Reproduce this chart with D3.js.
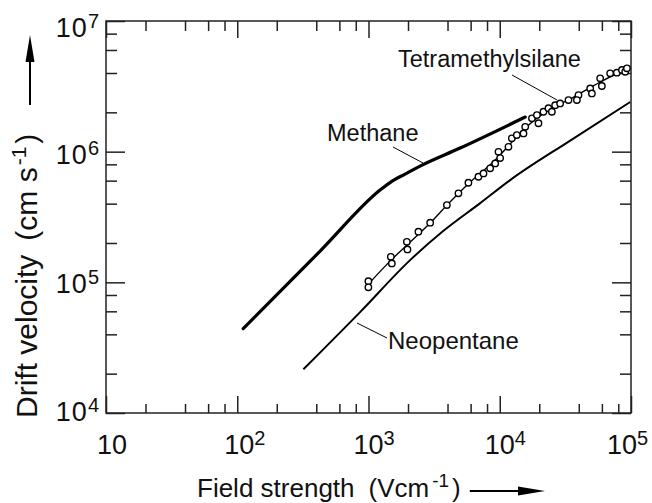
<!DOCTYPE html>
<html>
<head>
<meta charset="utf-8">
<script src="https://cdn.jsdelivr.net/npm/d3@7"></script>
<style>
  body { margin: 0; background: #fff; }
  text { font-family: "Liberation Sans", Arial, sans-serif; fill: #111; }
</style>
</head>
<body>
<svg id="chart" width="652" height="503"></svg>
<script>
// field strength (V/cm) and drift velocity (cm/s)
var methaneE = [111, 428, 1225, 1514, 1901, 2472, 4989, 15630];
var methaneV = [4.42e4, 1.734e5, 5.08e5, 5.96e5, 6.74e5, 7.76e5, 1.066e6, 1.84e6];

var neoE = [319, 863, 2075, 3707, 7096, 12000, 34430, 98600];
var neoV = [2.16e4, 5.92e4, 1.479e5, 2.47e5, 4.04e5, 6.06e5, 1.216e6, 2.40e6];

// tetramethylsilane: line drawn through the measurements
var tmsLineE = [998, 1486, 1968, 2950, 3972, 5741, 9230, 12000, 15630, 22180, 34430, 58210, 82790, 98600];
var tmsLineV = [9.69e4, 1.479e5, 1.93e5, 2.84e5, 3.90e5, 5.65e5, 8.63e5, 1.143e6, 1.517e6, 2.01e6, 2.53e6, 3.41e6, 4.07e6, 4.37e6];

// tetramethylsilane: measured points (open circles)
var tmsE = [998, 998, 1479, 1506, 1960, 1980, 2400, 2950, 3955, 4844, 5770, 6880, 7520, 8450, 9230, 9780,
  10070, 11650, 12360, 13490, 15170, 15630, 17590, 19190, 19730, 21530, 23500, 24950, 26430, 28840,
  33400, 39810, 38700, 48870, 50350, 58210, 59980, 69340, 77980, 85310, 90360, 93110];
var tmsV = [1.02e5, 9.15e4, 1.567e5, 1.396e5, 2.04e5, 1.786e5, 2.44e5, 2.86e5, 3.90e5, 4.80e5, 5.78e5, 6.43e5, 6.82e5, 7.45e5, 8.13e5, 9.97e5,
  8.93e5, 1.09e6, 1.265e6, 1.34e6, 1.38e6, 1.55e6, 1.80e6, 1.905e6, 1.65e6, 2.02e6, 2.15e6, 2.02e6, 2.27e6, 2.34e6,
  2.48e6, 2.71e6, 2.48e6, 3.05e6, 2.79e6, 3.64e6, 3.18e6, 3.98e6, 4.02e6, 4.22e6, 4.09e6, 4.34e6];

var xDecades = [10, 100, 1000, 10000, 100000];
var xExponents = ["", "2", "3", "4", "5"];
var yDecades = [1e4, 1e5, 1e6, 1e7];
var yExponents = ["4", "5", "6", "7"];
var minorSteps = [2, 4, 6, 8];

var width = 652, height = 503;
var margin = { top: 21, right: 21, bottom: 90, left: 106 };
var innerW = width - margin.left - margin.right;
var innerH = height - margin.top - margin.bottom;

var svg = d3.select("#chart");
var g = svg.append("g").attr("transform", "translate(" + margin.left + "," + margin.top + ")");

var x = d3.scaleLog().domain([10, 1e5]).range([0, innerW]);
var y = d3.scaleLog().domain([1e4, 1e7]).range([innerH, 0]);

function minors(decades) {
  var out = [];
  decades.slice(0, -1).forEach(function (d) {
    minorSteps.forEach(function (m) { out.push(m * d); });
  });
  return out;
}
var xMinor = minors(xDecades);
var yMinor = minors(yDecades);

function styleAxis(sel) {
  sel.select(".domain").remove();
  sel.selectAll(".tick line").attr("stroke", "#222").attr("stroke-width", 1.5);
  sel.selectAll(".tick text").remove();
}

// ticks all point inward, on all four sides
g.append("g").attr("transform", "translate(0," + innerH + ")")
  .call(d3.axisBottom(x).tickValues(xDecades).tickSize(-17)).call(styleAxis);
g.append("g").attr("transform", "translate(0," + innerH + ")")
  .call(d3.axisBottom(x).tickValues(xMinor).tickSize(-9)).call(styleAxis);
g.append("g")
  .call(d3.axisTop(x).tickValues(xDecades).tickSize(-17)).call(styleAxis);
g.append("g")
  .call(d3.axisTop(x).tickValues(xMinor).tickSize(-10)).call(styleAxis);
g.append("g")
  .call(d3.axisLeft(y).tickValues(yDecades).tickSize(-19)).call(styleAxis);
g.append("g")
  .call(d3.axisLeft(y).tickValues(yMinor).tickSize(-11)).call(styleAxis);
g.append("g").attr("transform", "translate(" + innerW + ",0)")
  .call(d3.axisRight(y).tickValues(yDecades).tickSize(-19)).call(styleAxis);
g.append("g").attr("transform", "translate(" + innerW + ",0)")
  .call(d3.axisRight(y).tickValues(yMinor).tickSize(-11)).call(styleAxis);

g.append("rect")
  .attr("width", innerW).attr("height", innerH)
  .attr("fill", "none").attr("stroke", "#222").attr("stroke-width", 1.5);

// tick labels
var xShift = [-9, -13, -15, -15, -24];
xDecades.forEach(function (d, i) {
  var t = g.append("text")
    .attr("x", x(d) + xShift[i]).attr("y", innerH + 41)
    .style("font-size", "27px");
  t.append("tspan").text("10");
  if (xExponents[i]) {
    t.append("tspan").attr("dy", -9).style("font-size", "20px").text(xExponents[i]);
  }
});

var yShift = [8, 11, 12, 16];
yDecades.forEach(function (d, i) {
  var t = g.append("text")
    .attr("x", -6).attr("y", y(d) + yShift[i])
    .attr("text-anchor", "end")
    .style("font-size", "27px")
    .style("letter-spacing", "1px");
  t.append("tspan").text("10");
  t.append("tspan").attr("dy", -9).style("font-size", "20px").text(yExponents[i]);
});

// curves
var line = d3.line()
  .x(function (d) { return x(d[0]); })
  .y(function (d) { return y(d[1]); })
  .curve(d3.curveMonotoneX);

g.append("path")
  .datum(d3.zip(methaneE, methaneV))
  .attr("fill", "none").attr("stroke", "#000").attr("stroke-width", 3.2)
  .attr("stroke-linecap", "round")
  .attr("d", line);

g.append("path")
  .datum(d3.zip(neoE, neoV))
  .attr("fill", "none").attr("stroke", "#000").attr("stroke-width", 2)
  .attr("d", line);

g.append("path")
  .datum(d3.zip(tmsLineE, tmsLineV))
  .attr("fill", "none").attr("stroke", "#000").attr("stroke-width", 1.4)
  .attr("d", line);

g.append("g").selectAll("circle")
  .data(d3.zip(tmsE, tmsV))
  .enter()
  .append("circle")
  .attr("cx", function (d) { return x(d[0]); })
  .attr("cy", function (d) { return y(d[1]); })
  .attr("r", 3.2)
  .attr("fill", "#fff").attr("stroke", "#000").attr("stroke-width", 1.4);

// curve labels with leader lines
function leader(x1, y1, x2, y2) {
  svg.append("line")
    .attr("x1", x1).attr("y1", y1).attr("x2", x2).attr("y2", y2)
    .attr("stroke", "#000").attr("stroke-width", 1);
}
svg.append("text").attr("x", 327).attr("y", 141).style("font-size", "23.5px").text("Methane");
leader(393, 147, 423, 163);
svg.append("text").attr("x", 398).attr("y", 67).style("font-size", "23.5px").text("Tetramethylsilane");
leader(512, 75, 557, 100);
svg.append("text").attr("x", 388).attr("y", 349).style("font-size", "24px").text("Neopentane");
leader(357, 323, 387, 338);

// axis titles
var xt = svg.append("text").attr("x", 197).attr("y", 497).style("font-size", "26px");
xt.append("tspan").text("Field strength");
xt.append("tspan").attr("dx", 14).text("(Vcm");
xt.append("tspan").attr("dx", 3).attr("dy", -10).style("font-size", "19px").text("-1");
xt.append("tspan").attr("dx", 3).attr("dy", 10).text(")");

var yt = svg.append("text")
  .attr("transform", "translate(37,418) rotate(-90)")
  .style("font-size", "30px");
yt.append("tspan").text("Drift velocity");
yt.append("tspan").attr("dx", 14).text("(cm s");
yt.append("tspan").attr("dx", 2).attr("dy", -11).style("font-size", "21px").text("-1");
yt.append("tspan").attr("dx", 3).attr("dy", 11).text(")");

// arrows after the titles
function arrow(x1, y1, x2, y2) {
  var a = Math.atan2(y2 - y1, x2 - x1), len = 27, half = 4.5;
  var bx = x2 - len * Math.cos(a), by = y2 - len * Math.sin(a);
  svg.append("line")
    .attr("x1", x1).attr("y1", y1).attr("x2", bx).attr("y2", by)
    .attr("stroke", "#000").attr("stroke-width", 2);
  var p = d3.path();
  p.moveTo(x2, y2);
  p.lineTo(bx - half * Math.sin(a), by + half * Math.cos(a));
  p.lineTo(bx + half * Math.sin(a), by - half * Math.cos(a));
  p.closePath();
  svg.append("path").attr("d", p).attr("fill", "#000");
}
var xtBox = xt.node().getBBox();
arrow(xtBox.x + xtBox.width + 9, 491, 545, 491);
arrow(30, 105, 30, 35);
</script>
</body>
</html>
